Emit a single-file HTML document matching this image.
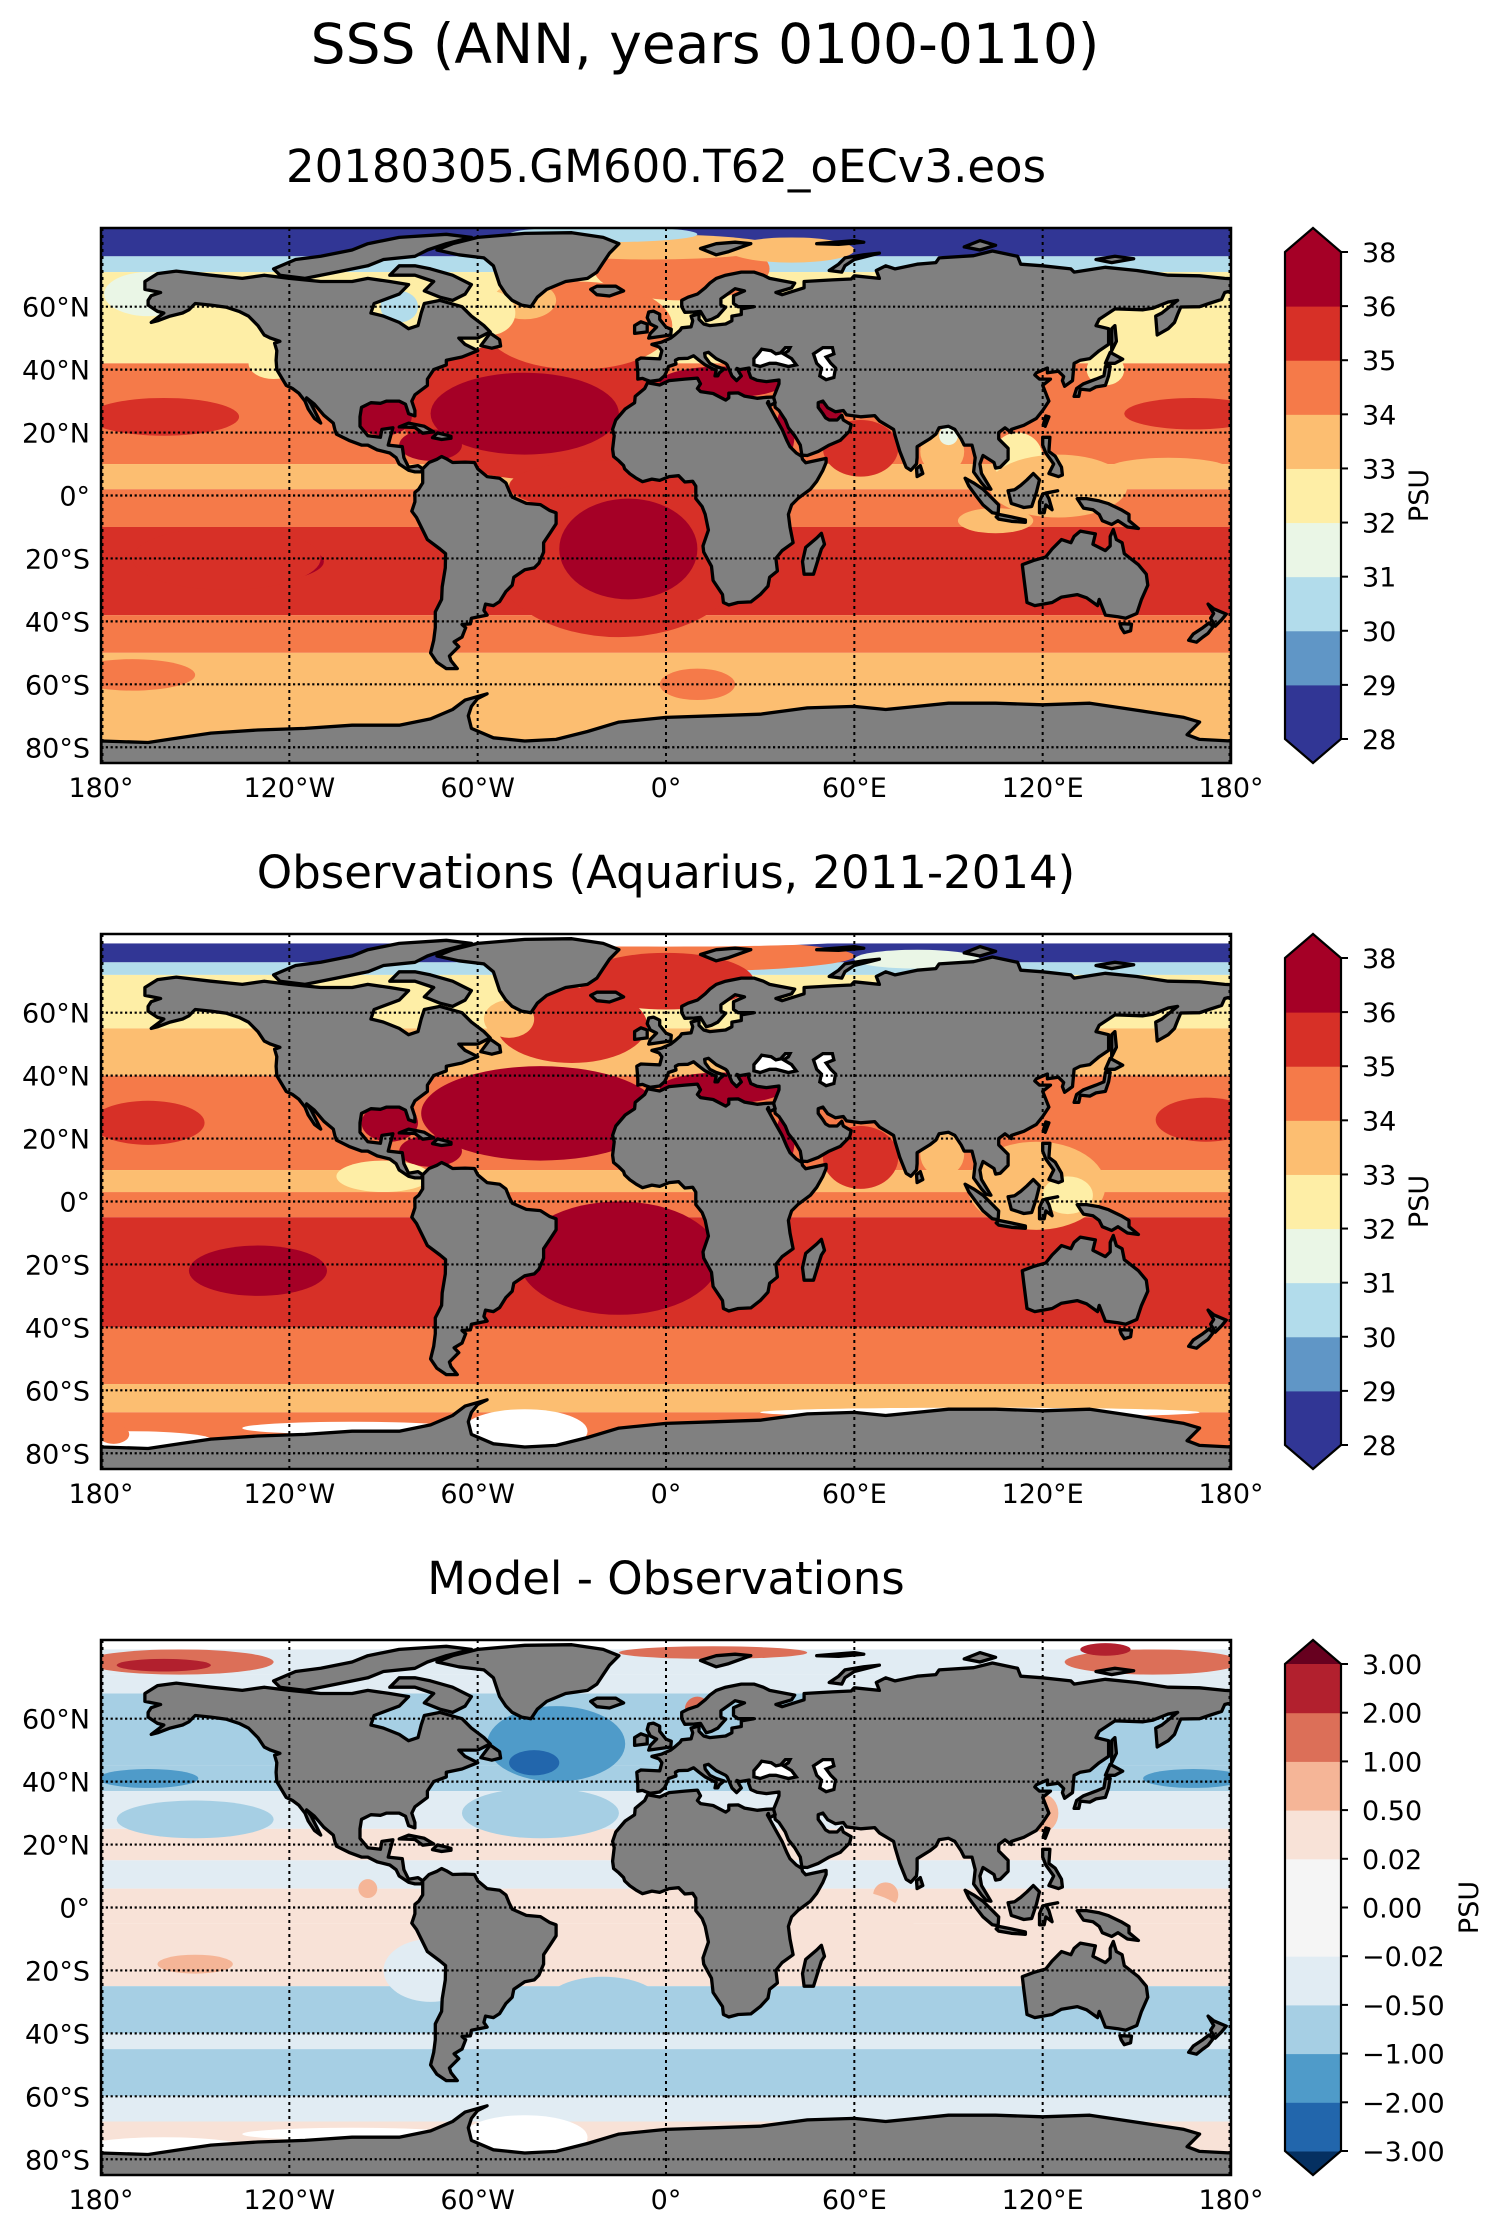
<!DOCTYPE html>
<html><head><meta charset="utf-8"><title>SSS (ANN, years 0100-0110)</title>
<style>
html,body{margin:0;padding:0;background:#fff;}
svg{display:block;font-family:"DejaVu Sans","Liberation Sans",sans-serif;}
</style></head>
<body>
<svg id="fig" xmlns="http://www.w3.org/2000/svg" width="1505" height="2235" viewBox="0 0 1505 2235">
<rect x="0" y="0" width="1505" height="2235" fill="#fff"/>
<text x="705" y="63" font-size="55" text-anchor="middle">SSS (ANN, years 0100-0110)</text>
</svg>
<script>
// ---------- data ----------
const SSS_LEVELS=[28,29,30,31,32,33,34,35,36,38];
const SSS_COLORS=['#313695','#6096c6','#b2dceb','#eaf6e6','#feeea6','#fcbe71','#f57a49','#d73027','#a50026'];
const DIFF_LEVELS=[-3,-2,-1,-0.5,-0.02,0,0.02,0.5,1,2,3];
const DIFF_COLORS=['#2266ac','#4f9bc9','#a6cfe4','#e1ecf3','#f5f5f5','#f5f5f5','#f8e2d7','#f5b597','#dc6f58','#b2202e'];
const SSS_TICKS=['38','36','35','34','33','32','31','30','29','28'];
const DIFF_TICKS=['3.00','2.00','1.00','0.50','0.02','0.00','\u22120.02','\u22120.50','\u22121.00','\u22122.00','\u22123.00'];
const LAT_TICKS=[60,40,20,0,-20,-40,-60,-80];
const LAT_LABELS=['60°N','40°N','20°N','0°','20°S','40°S','60°S','80°S'];
const LON_TICKS=[-180,-120,-60,0,60,120,180];
const LON_LABELS=['180°','120°W','60°W','0°','60°E','120°E','180°'];
const TITLES=['20180305.GM600.T62_oECv3.eos','Observations (Aquarius, 2011-2014)','Model - Observations'];

// zonal bands [latTop, latBottom, value]
const model_bands=[[85,76,28.5],[76,71,30.5],[71,42,32.5],[42,10,34.5],[10,2,33.5],[2,-10,34.5],[-10,-38,35.5],[-38,-50,34.5],[-50,-90,33.5]];
// blobs [lon, lat, halfWidthLon, halfHeightLat, value]
const model_blobs=[
 [-165,64,14,7,31.5],[-125,42,8,5,32.5],
 [-160,25,24,6,35.5],[168,26,22,5,35.5],
 [-40,27,45,22,35.5],[-45,26,30,13,36.5],[-90,25,9,6,36.5],[-75,16,10,5,36.5],
 [-28,54,30,14,34.5],[-45,62,10,6,33.5],[-56,58,8,7,32.5],[5,72,28,10,34.5],[-5,79,40,4,33.5],[-20,83,30,2.5,30.5],[40,78,20,4,33.5],
 [-20,3,30,8,35.5],[-15,-20,40,25,35.5],[-12,-17,22,16,36.5],
 [-135,-21,26,7,36.5],[-140,-20,30,10,35.5],
 [62,15,12,9,35.5],[88,14,7,7,33.5],[90,19,3,3,31.5],[112,12,8,8,32.5],[125,3,22,10,33.5],[160,8,20,4,33.5],[105,-8,12,4,33.5],
 [18,36,20,5,36.5],[38,20,3,8,36.5],[52,27,4,3,36.5],
 [-85,60,6,5,30.5],[140,40,6,5,32.5],
 [10,-60,12,5,34.5],[-170,-57,20,5,34.5]];
const obs_bands=[[85,82,null],[82,76,28.5],[76,72,30.5],[72,55,32.5],[55,40,33.5],[40,10,34.5],[10,3,33.5],[3,-5,34.5],[-5,-40,35.5],[-40,-58,34.5],[-58,-67,33.5],[-67,-90,34.5]];
const obs_blobs=[
 [0,78,60,5,34.5],[0,83,60,2,null],[80,77,20,3,31.5],
 [-165,62,14,6,32.5],[0,70,28,9,35.5],[-30,56,24,12,35.5],[-50,58,8,6,33.5],
 [-40,28,38,15,36.5],[-88,25,9,6,36.5],[-75,16,10,5,36.5],
 [-165,25,18,7,35.5],[172,26,16,7,35.5],
 [-90,8,15,5,32.5],[-15,-18,32,18,36.5],[-130,-22,22,8,36.5],
 [62,14,12,10,35.5],[88,15,7,7,33.5],[118,5,22,14,33.5],[128,2,8,6,32.5],[18,36,20,5,36.5],[38,20,3,8,36.5],
 [-40,-62,30,4,33.5],[60,-62,40,4,33.5],
 [-45,-73,20,7,null],[-170,-76,26,3,null],[-100,-72,35,2,null],[100,-67,70,1.5,null],[-176,-74,5,3,34.5]];
const diff_bands=[[85,82,null],[82,74,-0.3],[74,68,-0.3],[68,45,-0.7],[45,37,-0.7],[37,25,-0.3],[25,15,0.3],[15,6,-0.3],[6,-5,0.3],[-5,-25,0.3],[-25,-40,-0.7],[-40,-45,-0.3],[-45,-60,-0.7],[-60,-68,-0.3],[-68,-90,0.3]];
const diff_blobs=[
 [-155,78,30,4,1.5],[-160,77,15,2,2.5],[155,78,28,4,1.5],[140,82,8,2,2.5],[15,81,30,2,1.5],
 [-165,41,16,3,-1.5],[168,41,16,3,-1.5],[-150,28,25,6,-0.7],
 [-35,52,22,12,-1.5],[-42,46,8,4,-2.5],[-40,30,25,8,-0.7],
 [-95,6,3,3,0.7],[-150,-18,12,3,0.7],[70,4,4,4,0.7],[10,63,4,4,1.5],[120,30,5,6,0.7],
 [-75,-20,15,10,-0.3],[-20,-30,18,8,-0.7],[60,-10,20,15,0.3],
 [-45,-73,20,7,null],[-160,-76,25,3,null],[-100,-72,35,2,null]];

// ---------- land polygons (lon,lat) ----------
const LAND=[
[[-166,68],[-162,70.5],[-156,71.3],[-145,70],[-135,69],[-128,70],[-120,69],[-110,68],[-100,68],[-95,69],[-88,68],[-82,67],[-85,64],[-93,61],[-94,58],[-90,57],[-85,55],[-82,53],[-79,54],[-78,58],[-77,61],[-72,62],[-65,60],[-62,57],[-58,54],[-56,52],[-60,50],[-66,50],[-64,48],[-60,46],[-65,44],[-70,43],[-70,41.5],[-74,40],[-76,37],[-76,35],[-80,32],[-81,30],[-80,27],[-80,25.3],[-82,26],[-83,29],[-85,30],[-89,30],[-91,29.3],[-94,29.5],[-97,28],[-97.5,25],[-97.5,22],[-95,19],[-91,18.5],[-90.5,21],[-87,21.5],[-88,18],[-88.5,16],[-84,15.5],[-83.5,12],[-82,9],[-79,9.5],[-77.5,8.5],[-78,7.5],[-80,7.5],[-82,8],[-85,10],[-86,12],[-88,13.5],[-92,14.5],[-95,16],[-97,16],[-101,17.5],[-105,19.5],[-105.5,21],[-106,23],[-109,25.5],[-112,29],[-114.5,31],[-113,29],[-111,25],[-110,23],[-112,24.5],[-114,27.5],[-115,30],[-117,32.5],[-119,34],[-121,35],[-122.5,37.5],[-124,40],[-124.2,43],[-124,46],[-124.7,48.4],[-123,49],[-126,50],[-128,51],[-130,54],[-133,57],[-136,58.5],[-140,59.8],[-145,60.5],[-150,61],[-152,59],[-154,58],[-158,57],[-162,55.5],[-164,55],[-160,58],[-162,58.5],[-165,60.5],[-165,62],[-164,63.5],[-161,64.5],[-166,65.5]],
[[-125,72],[-118,75],[-110,76],[-100,78],[-95,80],[-85,82],[-70,83],[-62,82],[-70,80],[-76,78],[-80,76],[-90,75],[-95,73],[-105,71],[-115,69],[-123,70]],
[[-80,73],[-75,72],[-68,70],[-62,67],[-64,64],[-68,62],[-72,63],[-77,65],[-74,68],[-80,70],[-88,70],[-85,73]],
[[-73,78],[-68,80],[-60,82],[-45,83.3],[-30,83.5],[-20,82],[-15,80],[-18,77],[-20,74],[-22,71],[-25,69],[-32,68],[-38,65.5],[-41,63],[-43,60],[-46,60.5],[-49,62],[-51,64],[-53,67],[-54,70],[-55,73],[-58,75.5],[-66,76.5]],
[[-24,65.5],[-22,66.5],[-16,66.5],[-13.5,65],[-18,63.4],[-22,63.8]],
[[-5.5,50],[1.5,51],[1.7,52.8],[0,53.5],[-2,56],[-2,57.6],[-4,58.6],[-5.5,58.3],[-6,56.5],[-5,54.5],[-3,53.5],[-5,51.5]],
[[-10,51.5],[-6,52],[-6,54.5],[-8,55.2],[-10,54]],
[[-9,37],[-9,39],[-9.3,43],[-8,43.7],[-2,43.4],[-1.3,46],[-2.2,47.2],[-4.5,48],[-1.5,48.7],[1.5,50],[3,51.2],[4.5,52.5],[5,53.3],[8,53.6],[8.5,55.5],[8,57],[10.5,57.7],[10.5,56],[12,54.5],[14,54],[19,54.5],[21,55.5],[21,57],[24,57.5],[24,59.3],[28,60],[23,60],[21.5,61],[21.5,63.5],[25,65],[22,65.7],[17.5,62.5],[17.5,60.5],[19,59.8],[16.5,57],[14.5,56],[12.8,55.5],[11,58.5],[9,58.3],[6,58.2],[5,60],[5,62],[7,63],[10,64],[12.5,66],[14,67.5],[16,69],[19,70],[24,71],[28,71],[31,70],[33,69],[41,67.5],[40,66],[35,64.5],[37,63.8],[44,66],[44,68],[53,68.5],[59,68.8],[60,69.8],[68,69],[67,71.5],[70,73],[73,72],[80,73.5],[86,74],[87,75.5],[98,76.2],[104,77.7],[112,76],[113,73.5],[120,73],[129,72],[130,71],[140,72.5],[150,71.5],[160,70],[170,69.8],[178,69],[180,68.9],[180,65],[178,64.5],[177,62.3],[173,61],[170,60],[164,59.9],[163,57.5],[162,55],[160,53],[156.5,51],[156,57],[158,58],[163,62],[160,61.5],[155,59.5],[152,59],[143,59.3],[138,56],[137,54],[141,53],[141,48],[138,46],[135,43.5],[132,43],[130,42],[129.5,36.5],[127,34.7],[126.3,36.5],[126.7,37.8],[125,39.5],[121.5,39],[121.5,40.5],[118,39],[117.5,38.3],[119,37],[122.5,37],[120,35],[121,32.5],[122,30],[120,27],[118,24.5],[114,22.3],[110,21],[110,20],[108,21.5],[106,20],[106,18],[109,15],[109,11.5],[106.5,9],[105,8.7],[104.5,10.5],[101,12.7],[100,10],[100.5,7],[103.5,2],[102,2.3],[100.5,4],[98,7.5],[98.5,12],[97.5,16],[95,16],[94,18],[92,21],[90,22],[87,21.5],[86,19.5],[84,18],[80,15.5],[80,12],[79.8,10],[78,8],[76.5,9],[74.5,14],[73,19],[72.5,21],[70,22.5],[68,23.7],[66.5,25.4],[62,25],[57.5,25.6],[56.5,27],[54,26.6],[51.5,27.9],[50,30],[48.5,29.5],[48.5,28],[50,26],[50.8,24.7],[52,24],[54.5,24],[56,25.5],[56.5,24],[59,22.5],[58.5,20.5],[55.5,17.5],[52,16],[48.5,14],[45,12.7],[43.3,12.8],[42.8,16],[41,19],[39,21.5],[38,24],[36,27],[34.8,28],[34.3,31.3],[35,33],[36,35.5],[36,36.7],[32,36.2],[29,36.6],[27,37.5],[26.3,39.5],[26.5,40.5],[23.5,40],[22.6,40.4],[24,38],[22.5,36.5],[21,38],[19.5,41.5],[19,42],[16,43.5],[13.5,45.5],[12.3,45.2],[12.5,44],[14,42],[16,41],[18.5,40.2],[17,39],[16.5,38],[15.6,38],[16,39.8],[15,40.2],[12.5,41.5],[10.5,43],[8.8,44.4],[7,43.6],[4,43.5],[3,43],[3.2,41.8],[0.8,41],[0,39],[-0.5,38],[-2,36.7],[-5,36.3],[-6.5,36.8],[-7.5,37.2]],
[[-17,14.7],[-16.5,19],[-17,21],[-16,24],[-13,27.5],[-10,29.5],[-9.8,31.5],[-6.8,34],[-5.9,35.8],[-2,35.1],[1,36.5],[6,37],[10,37.3],[11,35.5],[10,34],[11,33],[15,32.4],[19,30.3],[20,31],[20,32.5],[23,32.6],[25,31.6],[29,30.9],[32,31.2],[34.2,31.3],[34.8,29.5],[33,28.5],[32.6,29.9],[32.3,29.4],[35,24.5],[37,21],[38.5,17.5],[39.5,15.5],[41.5,13.5],[43.3,12.4],[43.5,11.5],[44.5,10.4],[51,11.8],[51,10.5],[50,8],[48,4.5],[46,2],[42,-1],[40,-3],[39,-6],[39.5,-10],[40.5,-15],[37,-17.5],[35,-20],[35.5,-24],[33,-26],[32.5,-28.8],[30,-31.5],[27,-33.8],[23,-34],[20,-34.8],[18.3,-34],[18,-31.5],[15,-27],[14.5,-22.5],[12,-18],[11.8,-16],[13.5,-11],[12.5,-6],[11.5,-3.5],[9.5,-1],[9.5,3],[8.5,4.5],[6,4.3],[4,6.3],[1,6],[-2,4.8],[-4.5,5.2],[-7.5,4.4],[-9.5,5.5],[-11.5,6.9],[-13.2,8.5],[-13.5,9.5],[-15,11],[-16.7,12.4]],
[[44,-25],[47,-25],[49.5,-17],[50.5,-15.5],[49.5,-12],[48,-13.5],[44.5,-16.5],[43.5,-21]],
[[80,6],[81.8,7],[81,9.5],[79.8,8.5]],
[[-77.5,8.5],[-75.5,10.5],[-73,11.5],[-71.5,12.4],[-70,11.7],[-68,10.5],[-64,10.6],[-61,10.5],[-60,8.5],[-57,6],[-53,5.5],[-51,4],[-50,1.5],[-49,-0.5],[-44.5,-2.5],[-40,-2.9],[-37,-4.8],[-35,-5.5],[-35,-9],[-37,-12],[-39,-15],[-39,-18],[-40.5,-21.5],[-42,-23],[-45,-23.6],[-48.5,-26],[-49,-28.5],[-51,-30.5],[-53,-33.7],[-55,-35],[-57.5,-34.5],[-58,-36.5],[-57,-38],[-62,-39],[-62.3,-40.8],[-65,-41],[-63.8,-42],[-65,-45],[-67.5,-46.5],[-66,-48],[-69,-51],[-68.5,-52.5],[-66.5,-55],[-70,-55],[-73,-53],[-75,-50],[-74,-46],[-73.5,-42],[-73.5,-37],[-71.5,-33],[-71.3,-29],[-70.3,-23],[-70.2,-18.5],[-72,-17],[-76,-14],[-78,-10],[-79.5,-7],[-81,-5],[-80,-2],[-80,1],[-78.8,2],[-77.5,4],[-77.5,6.5]],
[[113.5,-22],[114,-26],[115,-34],[117.5,-35],[123,-34],[126,-32.3],[131,-31.5],[134,-32.5],[137.5,-35],[138,-33],[140,-38],[144,-38.5],[146.5,-39],[150,-37.5],[151.5,-33],[153.5,-28.5],[153,-25],[150.5,-22],[146,-18.5],[145.3,-15],[143.5,-14],[142.5,-10.8],[141.5,-13],[141.5,-16],[140,-17.5],[136,-15.5],[136.8,-12.2],[132,-11.3],[130,-13],[129,-15],[126,-14],[123,-17],[121,-19.5],[117,-20.7]],
[[144.6,-40.7],[148.3,-40.9],[148,-43],[146,-43.6],[145,-42]],
[[172.7,-34.5],[174.5,-36],[178.5,-37.7],[177,-39.5],[175,-41.5],[173.5,-39],[174.5,-37.5]],
[[173,-40.5],[174.3,-41.7],[172.7,-43.8],[171,-45],[169,-46.6],[166.5,-46],[168,-44],[171,-42]],
[[130,31.5],[131.5,31.5],[132,33.8],[135,33.5],[137,34.5],[140,35],[141,38],[141.5,41],[140,41],[139.5,38],[137,37],[133,35.5],[130.8,34]],
[[140,42],[141.5,45.5],[145.5,43.3],[143,42]],
[[142,46],[143.5,49],[143,54],[142,53],[142,48]],
[[120.2,22.5],[121,25.3],[122,25],[120.8,22]],
[[120,18.5],[122.3,18.5],[122,14],[124,12.5],[126,9],[126.3,6.5],[125,6],[122,7],[123.5,10],[121,13.5],[120,16]],
[[109,1.5],[110,-2.5],[114,-3.8],[116.5,-3.5],[118,1],[119,5],[117,7],[115,5],[113,3.2],[111,1.8]],
[[95.3,5.5],[98,4],[101,2],[104,-1],[106,-3],[105.8,-5.8],[104,-5.5],[101,-3],[98.7,0],[96.5,3]],
[[105.2,-6.8],[106,-6],[110,-6.8],[114.5,-7.8],[114.5,-8.5],[110,-8.2],[106,-7.5]],
[[119,-5.5],[120.5,-5.5],[121,-3],[123,-4.5],[122,-1],[121,0.8],[124.8,1.5],[120,0.5],[119,-2]],
[[131,-1],[134,-1],[138,-1.7],[141,-2.6],[145,-4.5],[147.5,-6],[147.5,-8],[150.5,-10.5],[147,-10],[144,-8],[142,-9.2],[139,-8],[138,-6],[136,-4.5],[133,-4],[132,-2.5]],
[[11,78.5],[16,80],[22,80.5],[27,80],[20,77.5],[16,76.5]],
[[52,71.5],[55,73.5],[57,75.5],[63,76.5],[68,77],[60,75],[57,73],[56,71]],
[[95,79],[100,81],[105,79.5],[100,78]],
[[48,80],[60,81],[63,80.5],[55,79.8]],
[[137,75],[143,76],[149,75.2],[142,74]],
[[-85,21.8],[-82,23],[-77,22],[-74,20.2],[-77.5,19.8],[-80,21.6]],
[[-74.4,18.4],[-72.8,19.9],[-68.5,18.8],[-68.5,18.2],[-71.5,17.8]],
[[-59,47.6],[-56,51.6],[-53,49.5],[-52.7,47.5],[-55.5,46.8]],
[[-180,-78],[-165,-78.5],[-155,-77],[-145,-75.5],[-130,-74.5],[-115,-74],[-100,-73],[-85,-73],[-75,-71],[-68,-68],[-64,-65],[-57,-63],[-60,-64.5],[-62,-67],[-63,-70],[-62,-74],[-55,-77],[-45,-78],[-35,-77.5],[-25,-75],[-15,-72],[0,-70.5],[15,-70],[30,-69.5],[45,-67.5],[60,-67],[70,-68],[80,-67],[90,-66],[105,-66],[120,-66.5],[135,-66],[145,-67.5],[155,-69],[165,-70.5],[170,-72],[166,-76],[170,-77.5],[180,-78],[180,-95],[-180,-95]]
];
const WATER_WHITE=[
[[28,41.5],[28,43.5],[29.6,45.3],[30.5,46.5],[33.5,46],[35,45],[36.5,45.3],[38,47],[39.5,47],[39,46],[37.5,45],[40,43.5],[41.5,41.5],[39,41],[35,42],[33,42],[30,41]],
[[47,45],[50,47],[53,47],[53.5,45],[51,44],[52.5,42],[54,40.5],[53.5,37.5],[51,36.8],[49,38],[49.5,40.5],[48,42]]];

// ---------- geometry ----------
const MAP_X=101, MAP_W=1130, MAP_H=535;
const PANEL_TOPS=[228,934,1640];
const CB_X=1285, CB_W=56, TIP=24;
const NS='http://www.w3.org/2000/svg';
const fig=document.getElementById('fig');
function mk(tag,attrs,parent){const e=document.createElementNS(NS,tag);for(const k in attrs)e.setAttribute(k,attrs[k]);(parent||fig).appendChild(e);return e;}
function colorFor(v,levels,colors){
  if(v===null) return '#ffffff';
  for(let i=0;i<colors.length;i++){ if(v<levels[i+1]) return colors[i]; }
  return colors[colors.length-1];
}
function lonX(lon){return MAP_X+(lon+180)*MAP_W/360;}
function latY(top,lat){return top+(85-lat)*MAP_H/170;}
function ptsStr(poly,top){return poly.map(p=>lonX(p[0]).toFixed(1)+','+latY(top,p[1]).toFixed(1)).join(' ');}

function drawPanel(idx,bands,blobs,levels,colors,ticks,diff){
  const top=PANEL_TOPS[idx];
  const t=mk('text',{x:666,y:top-46,'font-size':45,'text-anchor':'middle'});
  
  
  t.textContent=TITLES[idx];
  const cid='clip'+idx;
  const defs=mk('defs',{});
  const cp=mk('clipPath',{id:cid},defs);
  mk('rect',{x:MAP_X,y:top,width:MAP_W,height:MAP_H},cp);
  const g=mk('g',{'clip-path':'url(#'+cid+')'});
  
  
  bands.forEach(b=>{
    const y1=latY(top,b[0]), y2=latY(top,b[1]);
    const r=mk('rect',{x:MAP_X,y:y1,width:MAP_W,height:y2-y1,fill:colorFor(b[2],levels,colors)},g);
    
    
  });
  blobs.forEach(b=>{
    const e=mk('ellipse',{cx:lonX(b[0]),cy:latY(top,b[1]),rx:b[2]*MAP_W/360,ry:b[3]*MAP_H/170,fill:colorFor(b[4],levels,colors)},g);
    
    
  });
  LAND.forEach(p=>{
    const l=mk('polygon',{points:ptsStr(p,top),fill:'#808080',stroke:'#000','stroke-width':3.3,'stroke-linejoin':'round'},g);
    
    
  });
  WATER_WHITE.forEach(p=>{
    const w=mk('polygon',{points:ptsStr(p,top),fill:'#fff',stroke:'#000','stroke-width':3.3},g);
    
    
  });
  LON_TICKS.forEach(lon=>{
    const x=Math.min(Math.max(lonX(lon),MAP_X+1.5),MAP_X+MAP_W-1.5);
    const l=mk('line',{x1:x,y1:top,x2:x,y2:top+MAP_H,stroke:'#000','stroke-width':2,'stroke-dasharray':'3,4'},g);
    
    
  });
  LAT_TICKS.forEach(lat=>{
    const y=latY(top,lat);
    const l=mk('line',{x1:MAP_X,y1:y,x2:MAP_X+MAP_W,y2:y,stroke:'#000','stroke-width':2.2,'stroke-dasharray':'2.2,2.6'},g);
    
    
  });
  const fr=mk('rect',{x:MAP_X,y:top,width:MAP_W,height:MAP_H,fill:'none',stroke:'#000','stroke-width':2.5});
  
  
  LAT_TICKS.forEach((lat,i)=>{
    const tx=mk('text',{x:90,y:latY(top,lat)+10,'font-size':27,'text-anchor':'end'});
    
    
    tx.textContent=LAT_LABELS[i];
  });
  LON_TICKS.forEach((lon,i)=>{
    const tx=mk('text',{x:lonX(lon),y:top+569,'font-size':27,'text-anchor':'middle'});
    
    
    tx.textContent=LON_LABELS[i];
  });
  const cbTop=top+TIP, cbBot=top+MAP_H-TIP, n=colors.length, h=(cbBot-cbTop)/n;
  const cg=mk('g',{});
  
  
  const topCol=diff?'#67001f':colors[n-1], botCol=diff?'#053061':colors[0];
  mk('polygon',{points:`${CB_X},${cbTop} ${CB_X+CB_W/2},${top} ${CB_X+CB_W},${cbTop}`,fill:topCol},cg);
  mk('polygon',{points:`${CB_X},${cbBot} ${CB_X+CB_W/2},${top+MAP_H} ${CB_X+CB_W},${cbBot}`,fill:botCol},cg);
  for(let i=0;i<n;i++){
    const r=mk('rect',{x:CB_X,y:cbTop+(n-1-i)*h,width:CB_W,height:h+0.5,fill:colors[i]},cg);
    
    
  }
  mk('polygon',{points:`${CB_X},${cbTop} ${CB_X+CB_W/2},${top} ${CB_X+CB_W},${cbTop} ${CB_X+CB_W},${cbBot} ${CB_X+CB_W/2},${top+MAP_H} ${CB_X},${cbBot}`,fill:'none',stroke:'#000','stroke-width':2.2},cg);
  ticks.forEach((lab,i)=>{
    const y=cbTop+i*h;
    mk('line',{x1:CB_X+CB_W,y1:y,x2:CB_X+CB_W+7,y2:y,stroke:'#000','stroke-width':2},cg);
    const tx=mk('text',{x:1362,y:y+10,'font-size':27},cg);
    
    
    tx.textContent=lab;
  });
  const px=diff?1478:1428, py=top+MAP_H/2;
  const pl=mk('text',{x:px,y:py,'font-size':27,'text-anchor':'middle',transform:`rotate(-90 ${px} ${py})`});
  
  
  pl.textContent='PSU';
}
drawPanel(0,model_bands,model_blobs,SSS_LEVELS,SSS_COLORS,SSS_TICKS,false);
drawPanel(1,obs_bands,obs_blobs,SSS_LEVELS,SSS_COLORS,SSS_TICKS,false);
drawPanel(2,diff_bands,diff_blobs,DIFF_LEVELS,DIFF_COLORS,DIFF_TICKS,true);
</script>
</body></html>
